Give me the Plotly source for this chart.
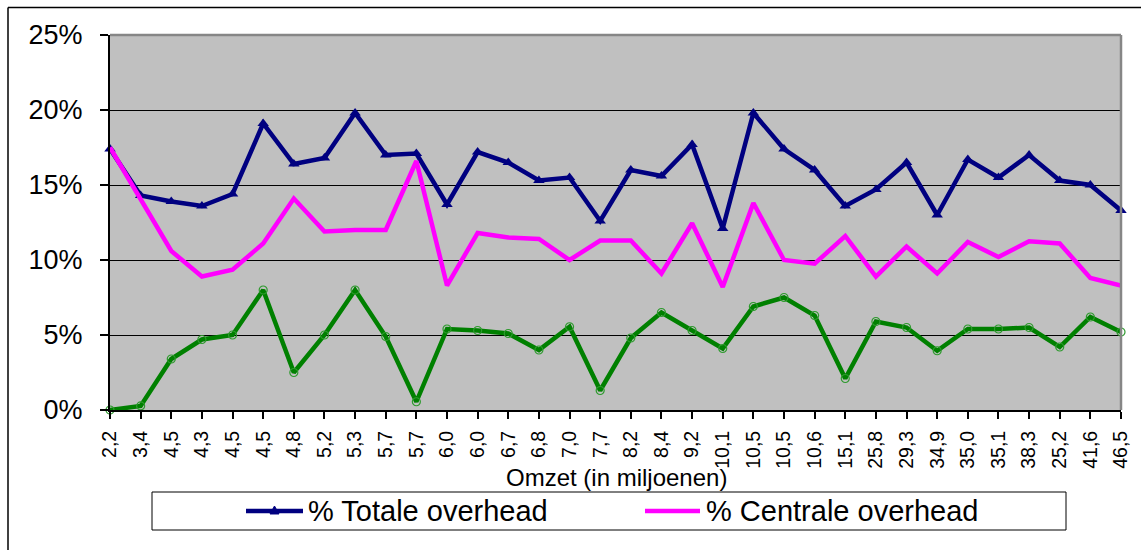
import plotly.graph_objects as go

# Omzet (in miljoenen) per organisatie, in plotvolgorde
omzet = ["2,2", "3,4", "4,5", "4,3", "4,5", "4,5", "4,8", "5,2", "5,3", "5,7",
         "5,7", "6,0", "6,0", "6,7", "6,8", "7,0", "7,7", "8,2", "8,4", "9,2",
         "10,1", "10,5", "10,5", "10,6", "15,1", "25,8", "29,3", "34,9", "35,0",
         "35,1", "38,3", "25,2", "41,6", "46,5"]

# Overhead als percentage van de omzet
totale = [17.4, 14.3, 13.9, 13.6, 14.4, 19.1, 16.4, 16.8, 19.8, 17.0,
          17.1, 13.7, 17.2, 16.5, 15.3, 15.5, 12.6, 16.0, 15.6, 17.7,
          12.1, 19.8, 17.4, 16.0, 13.6, 14.7, 16.5, 13.0, 16.7, 15.5,
          17.0, 15.3, 15.0, 13.3]
centrale = [17.5, 14.0, 10.6, 8.9, 9.35, 11.1, 14.1, 11.9, 12.0, 12.0,
            16.6, 8.3, 11.8, 11.5, 11.4, 10.0, 11.3, 11.3, 9.1, 12.45,
            8.2, 13.8, 10.0, 9.75, 11.6, 8.9, 10.9, 9.1, 11.2, 10.2,
            11.25, 11.1, 8.8, 8.3]
decentrale = [0.0, 0.27, 3.4, 4.7, 5.0, 8.0, 2.5, 5.0, 8.0, 4.9,
              0.55, 5.4, 5.3, 5.1, 4.0, 5.55, 1.3, 4.8, 6.5, 5.3,
              4.1, 6.9, 7.5, 6.3, 2.1, 5.9, 5.5, 3.95, 5.4, 5.4,
              5.5, 4.2, 6.2, 5.2]

y_tickvals = [0, 5, 10, 15, 20, 25]
y_ticktext = ["0%", "5%", "10%", "15%", "20%", "25%"]

NAVY = "#000080"
MAGENTA = "#FF00FF"
GREEN = "#008000"
FONT = "Arial, Liberation Sans, sans-serif"

W, H = 1141, 550
PL, PR, PT, PB = 110, 1121, 35, 410  # plot area edges in pixels


def fx(px):
    return (px - PL) / (PR - PL)


def fy(py):
    return (PB - py) / (PB - PT)


idx = list(range(len(omzet)))

fig = go.Figure()
fig.add_trace(go.Scatter(
    x=idx, y=totale, name="% Totale overhead", mode="lines+markers",
    line=dict(color=NAVY, width=4.5),
    marker=dict(symbol="triangle-up", size=10, color=NAVY),
    cliponaxis=False, showlegend=False))
fig.add_trace(go.Scatter(
    x=idx, y=centrale, name="% Centrale overhead", mode="lines",
    line=dict(color=MAGENTA, width=4.5),
    cliponaxis=False, showlegend=False))
fig.add_trace(go.Scatter(
    x=idx, y=decentrale, name="% Decentrale overhead", mode="lines+markers",
    line=dict(color=GREEN, width=4.5),
    marker=dict(symbol="circle-open", size=8, color="#2E9A2E", line=dict(width=1.2)),
    cliponaxis=False, showlegend=False))

shapes = [
    # outer chart frame (top and left edges)
    dict(type="line", xref="paper", yref="paper", x0=fx(8), x1=fx(1145), y0=fy(7.5), y1=fy(7.5),
         line=dict(color="black", width=1.5)),
    dict(type="line", xref="paper", yref="paper", x0=fx(8), x1=fx(8), y0=fy(7.5), y1=fy(555),
         line=dict(color="black", width=1.5)),
    # plot-area border on top and right
    dict(type="line", xref="paper", yref="paper", x0=0, x1=1, y0=1, y1=1,
         line=dict(color="#868686", width=2.5), layer="above"),
    dict(type="line", xref="paper", yref="paper", x0=1, x1=1, y0=1, y1=0,
         line=dict(color="#868686", width=2.5), layer="above"),
    # legend box
    dict(type="rect", xref="paper", yref="paper", x0=fx(152), x1=fx(1066), y0=fy(492), y1=fy(530),
         line=dict(color="black", width=1), fillcolor="white"),
    dict(type="line", xref="paper", yref="paper", x0=fx(246), x1=fx(303), y0=fy(511), y1=fy(511),
         line=dict(color=NAVY, width=4.5)),
    dict(type="path", xref="paper", yref="paper",
         path="M {:.5f},{:.5f} L {:.5f},{:.5f} L {:.5f},{:.5f} Z".format(
             fx(270), fy(514), fx(279), fy(514), fx(274.5), fy(506)),
         fillcolor=NAVY, line=dict(color=NAVY, width=1)),
    dict(type="line", xref="paper", yref="paper", x0=fx(645), x1=fx(700), y0=fy(511), y1=fy(511),
         line=dict(color=MAGENTA, width=4.5)),
]

annotations = [
    dict(text="Omzet (in miljoenen)", xref="paper", yref="paper", x=fx(616), y=fy(477),
         xanchor="center", yanchor="middle", showarrow=False,
         font=dict(family=FONT, size=24, color="black")),
    dict(text="% Totale overhead", xref="paper", yref="paper", x=fx(306), y=fy(511),
         xanchor="left", yanchor="middle", showarrow=False,
         font=dict(family=FONT, size=29, color="black")),
    dict(text="% Centrale overhead", xref="paper", yref="paper", x=fx(704), y=fy(511),
         xanchor="left", yanchor="middle", showarrow=False,
         font=dict(family=FONT, size=29, color="black")),
]

fig.update_layout(
    width=W, height=H,
    margin=dict(l=PL, r=W - PR, t=PT, b=H - PB, autoexpand=False),
    paper_bgcolor="white",
    plot_bgcolor="#C0C0C0",
    font=dict(family=FONT, color="black"),
    showlegend=False,
    xaxis=dict(
        range=[0, len(omzet) - 1], tickmode="array", tickvals=idx, ticktext=omzet,
        tickangle=-90, ticks="outside", ticklen=7, tickwidth=1.5, tickcolor="black",
        showline=True, linecolor="black", linewidth=2, showgrid=False, zeroline=False,
        ticklabelstandoff=4,
        tickfont=dict(family=FONT, size=19.5, color="black")),
    yaxis=dict(
        range=[0, 25], tickmode="array", tickvals=y_tickvals, ticktext=y_ticktext,
        ticks="outside", ticklen=8, tickwidth=1.5, tickcolor="black",
        showline=True, linecolor="black", linewidth=2,
        showgrid=True, gridcolor="black", gridwidth=1, zeroline=False,
        ticklabelstandoff=12,
        tickfont=dict(family=FONT, size=27, color="black")),
    shapes=shapes,
    annotations=annotations,
)

fig.write_html("out.html")
